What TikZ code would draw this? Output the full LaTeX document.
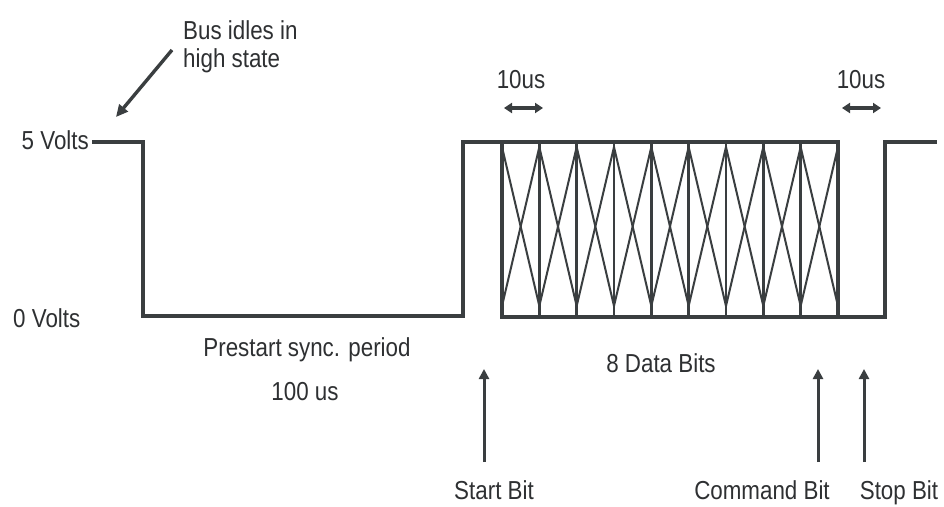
\documentclass[tikz,border=0pt]{standalone}
\usepackage{fontspec}
\setmainfont[FakeStretch=0.86]{Liberation Sans}
\usetikzlibrary{arrows.meta}
\definecolor{wave}{RGB}{58,62,64}
\definecolor{txt}{RGB}{46,48,50}
\begin{document}
\begin{tikzpicture}[x=1pt,y=-1pt,
  lbl/.style={text=txt,font=\fontsize{26}{30}\selectfont,inner sep=0pt},
  wavel/.style={draw=wave,line width=3.6pt,line join=miter},
  divl/.style={draw=wave,line width=2.6pt},
  crossl/.style={draw=wave,line width=2pt},
  uparr/.style={draw=wave,line width=3pt,-{Triangle[length=10pt,width=10pt]}},
  dblarr/.style={draw=wave,line width=3.2pt,{Triangle[length=8pt,width=10pt]}-{Triangle[length=8pt,width=10pt]}},
  idlearr/.style={draw=wave,line width=3.4pt,-{Triangle[length=12pt,width=11pt]}},
]
\useasboundingbox[fill=white] (0,0) rectangle (944,506);

% waveform
\draw[wavel] (92,142) -| (143,316) -| (463,142) -- (838,142) -- (838,317) -- (885,317) -- (885,142) -- (937,142);
\draw[wavel] (502,142) -- (502,317) -- (838,317);
\foreach \k in {1,...,8}{
  \draw[divl] ({502+\k*37.33},142) -- ({502+\k*37.33},317);
}
\foreach \k in {0,...,8}{
  \draw[crossl] ({502+\k*37.33},147) -- ({502+(\k+1)*37.33},306);
  \draw[crossl] ({502+\k*37.33},306) -- ({502+(\k+1)*37.33},147);
}

% labels
\node[lbl,anchor=base east] (v5) at (89,149) {5 Volts};
\node[lbl,anchor=base west] (v0) at (13,327) {0 Volts};
\node[lbl,anchor=base west] (idle1) at (183,39) {Bus idles in};
\node[lbl,anchor=base west] (idle2) at (183,67) {high state};
\node[lbl,anchor=base] (pre1) at (307,356) {Prestart sync. period};
\node[lbl,anchor=base] (pre2) at (305,400) {100 us};
\node[lbl,anchor=base] (data) at (661,372) {8 Data Bits};
\node[lbl,anchor=base] (t1) at (521,88) {10us};
\node[lbl,anchor=base] (t2) at (861,88) {10us};
\node[lbl,anchor=base] (sb) at (494,499) {Start Bit};
\node[lbl,anchor=base] (cb) at (762,499) {Command Bit};
\node[lbl,anchor=base] (pb) at (899,499) {Stop Bit};

% arrows
\coordinate (idletail) at (172,50);
\coordinate (idletip) at (116,117);
\draw[idlearr] (idletail) -- (idletip);

\coordinate (d1a) at (504,108);
\coordinate (d1b) at (543,108);
\coordinate (d2a) at (842,108);
\coordinate (d2b) at (881,108);
\draw[dblarr] (d1a) -- (d1b);
\draw[dblarr] (d2a) -- (d2b);

\coordinate (sbtail) at (484,462);
\coordinate (sbtip) at (484,369);
\coordinate (cbtail) at (818,462);
\coordinate (cbtip) at (818,369);
\coordinate (pbtail) at (864,462);
\coordinate (pbtip) at (864,369);
\draw[uparr] (sbtail) -- (sbtip);
\draw[uparr] (cbtail) -- (cbtip);
\draw[uparr] (pbtail) -- (pbtip);
\end{tikzpicture}
\end{document}
